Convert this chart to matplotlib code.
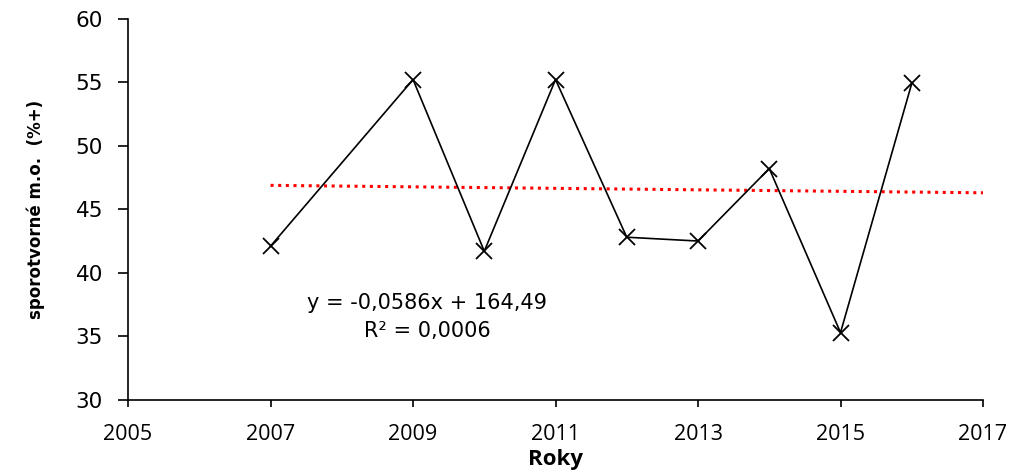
import matplotlib
matplotlib.use("Agg")
import matplotlib.pyplot as plt
import numpy as np

# Hodnoty
roky = [2007, 2009, 2010, 2011, 2012, 2013, 2014, 2015, 2016]
hodnoty = [42.1, 55.2, 41.7, 55.2, 42.8, 42.5, 48.2, 35.3, 54.9]

# Linearni trend (z rovnice v grafu)
sklon = -0.0586
posun = 164.49
trend_roky = [2007, 2017]

x_ticks = [2005, 2007, 2009, 2011, 2013, 2015, 2017]
y_ticks = [30, 35, 40, 45, 50, 55, 60]


def main():
    fig = plt.figure(figsize=(10.13, 4.76), dpi=100)
    ax = fig.add_axes([0.1264, 0.1597, 0.8440, 0.8014])

    tx = np.array(trend_roky, dtype=float)
    ax.plot(tx, sklon * tx + posun, color="red", linestyle=(0, (1, 1.5)),
            linewidth=2.2, zorder=2)
    ax.plot(roky, hodnoty, color="black", linewidth=1.2, marker="x",
            markersize=12, markeredgewidth=1.3, zorder=3)

    ax.set_xlim(2005, 2017)
    ax.set_ylim(30, 60)
    ax.set_xticks(x_ticks)
    ax.set_yticks(y_ticks)
    ax.spines["top"].set_visible(False)
    ax.spines["right"].set_visible(False)
    for s in ["left", "bottom"]:
        ax.spines[s].set_linewidth(1.2)
    ax.tick_params(axis="y", direction="out", length=7, width=1.2, pad=11,
                   labelsize=15.5, labelfontfamily="DejaVu Sans")
    ax.tick_params(axis="x", direction="out", length=5, width=1.2, pad=12,
                   labelsize=15.5, labelfontfamily="Open Sans")

    ax.set_ylabel("sporotvorné m.o.  (%+)", fontsize=12, fontweight="bold",
                  family="DejaVu Sans", labelpad=22)
    ax.set_xlabel("Roky", fontsize=16, fontweight="bold",
                  family="Open Sans", labelpad=3)

    ax.text(2009.2, 36.5, "y = -0,0586x + 164,49\nR² = 0,0006", fontsize=15,
            family="DejaVu Sans", ha="center", va="center",
            multialignment="center", linespacing=1.5)

    fig.savefig("out.png", dpi=100)


if __name__ == "__main__":
    main()
